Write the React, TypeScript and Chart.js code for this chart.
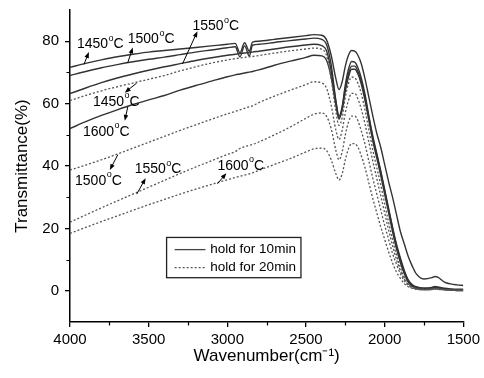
import { useEffect, useRef } from "react";
import { Chart, registerables } from "chart.js";

Chart.register(...registerables);

// ---------------- data ----------------
const WAVENUMBER = [
  4000, 3900, 3800, 3700, 3600, 3500, 3400, 3300, 3200, 3100,
  3000, 2950, 2920, 2890, 2860, 2840, 2800, 2700, 2600, 2500,
  2450, 2400, 2370, 2340, 2310, 2290, 2270, 2250, 2230, 2210,
  2190, 2170, 2150, 2125, 2100, 2075, 2050, 2025, 2000, 1975,
  1950, 1925, 1900, 1875, 1850, 1825, 1800, 1750, 1700, 1680,
  1660, 1620, 1580, 1540, 1500,
];

// hold for 10 min (solid)
const SOLID_1450 = [
  71.6, 72.9, 74.0, 75.0, 75.8, 76.5, 77.0, 77.5, 78.0, 78.5,
  79.0, 79.3, 76.3, 79.5, 76.8, 79.7, 80.0, 80.6, 81.2, 81.8,
  82.1, 81.9, 80.5, 75.5, 68.0, 64.5, 67.0, 72.0, 75.5, 77.0,
  76.8, 75.5, 73.0, 68.0, 62.0, 56.0, 50.5, 46.0, 40.5, 35.0,
  30.0, 24.5, 19.0, 15.0, 11.0, 8.0, 5.5, 3.8, 4.2, 4.6,
  4.3, 2.8, 2.2, 1.9, 1.7,
];
const SOLID_1500 = [
  69.0, 70.3, 71.5, 72.5, 73.4, 74.2, 74.9, 75.7, 76.5, 77.2,
  77.9, 78.2, 75.0, 78.5, 75.2, 78.7, 79.0, 79.6, 80.2, 80.7,
  81.0, 80.6, 79.0, 72.5, 61.0, 56.0, 59.0, 66.0, 71.0, 73.5,
  73.3, 71.5, 68.5, 63.0, 56.0, 49.5, 44.0, 38.5, 32.5, 26.5,
  20.5, 15.0, 10.5, 6.5, 3.5, 2.0, 1.3, 0.9, 1.1, 1.4,
  1.2, 0.8, 0.6, 0.5, 0.5,
];
const SOLID_1550 = [
  63.2, 65.0, 66.7, 68.2, 69.5, 70.7, 71.8, 72.8, 73.8, 74.7,
  75.5, 75.8, 76.0, 76.2, 76.4, 76.5, 76.8, 77.5, 78.2, 78.8,
  79.0, 78.6, 77.0, 70.5, 60.5, 55.5, 58.5, 65.0, 69.5, 72.0,
  72.0, 70.3, 67.5, 62.0, 55.5, 49.0, 43.5, 38.0, 32.0, 26.0,
  20.0, 14.5, 10.0, 6.0, 3.2, 1.8, 1.1, 0.7, 0.9, 1.2,
  1.0, 0.6, 0.4, 0.3, 0.3,
];
const SOLID_1600 = [
  52.0, 54.2, 56.2, 58.0, 59.7, 61.2, 62.6, 64.3, 65.8, 67.2,
  68.6, 69.2, 69.5, 69.8, 70.1, 70.3, 70.8, 72.3, 73.6, 74.8,
  75.5, 75.3, 74.0, 68.5, 59.5, 55.0, 58.0, 64.0, 68.5, 71.0,
  71.0, 69.5, 66.5, 61.0, 54.5, 48.0, 42.5, 37.0, 31.0, 25.0,
  19.0, 13.5, 9.0, 5.5, 2.8, 1.5, 0.9, 0.5, 0.7, 1.0,
  0.8, 0.4, 0.2, 0.1, 0.1,
];

// hold for 20 min (dotted)
const DOTTED_1450 = [
  61.0, 62.6, 64.1, 65.4, 66.6, 67.8, 69.0, 70.5, 71.8, 73.0,
  74.0, 74.4, 74.6, 74.8, 75.0, 75.1, 75.4, 76.2, 76.9, 77.5,
  77.8, 77.4, 75.5, 68.0, 57.5, 53.0, 55.5, 62.0, 66.5, 68.5,
  68.3, 66.5, 63.5, 58.0, 51.5, 45.0, 39.5, 34.0, 28.0, 22.0,
  16.5, 11.5, 7.5, 4.3, 2.2, 1.2, 0.8, 0.5, 0.6, 0.8,
  0.7, 0.4, 0.3, 0.2, 0.2,
];
const DOTTED_1500 = [
  38.7, 40.3, 42.0, 43.8, 45.7, 47.6, 49.5, 51.4, 53.2, 55.0,
  56.7, 57.5, 58.0, 58.5, 59.0, 59.3, 60.3, 62.4, 64.3, 66.1,
  67.0, 66.6, 65.0, 59.5, 51.5, 48.5, 51.5, 57.0, 61.0, 63.3,
  63.3, 61.5, 58.5, 53.5, 47.5, 41.5, 36.0, 30.5, 25.0, 19.5,
  14.5, 10.0, 6.5, 3.8, 2.0, 1.1, 0.7, 0.4, 0.5, 0.7,
  0.6, 0.4, 0.3, 0.2, 0.2,
];
const DOTTED_1550 = [
  22.0, 24.3, 26.6, 28.8, 31.0, 33.2, 35.4, 37.6, 39.7, 41.7,
  43.7, 44.6, 45.6, 46.2, 46.6, 46.9, 47.7, 50.0, 52.5, 55.3,
  56.6, 57.0, 56.0, 52.0, 45.0, 42.0, 44.5, 50.0, 54.0, 56.0,
  56.0, 54.5, 51.5, 47.0, 41.5, 36.0, 31.0, 26.0, 21.0, 16.5,
  12.0, 8.5, 5.5, 3.2, 1.7, 1.0, 0.6, 0.3, 0.4, 0.6,
  0.5, 0.3, 0.2, 0.1, 0.1,
];
const DOTTED_1600 = [
  18.4, 20.3, 22.2, 24.0, 25.8, 27.6, 29.3, 31.0, 32.6, 34.1,
  35.6, 36.3, 36.7, 37.1, 37.5, 37.8, 38.6, 40.5, 42.4, 44.5,
  45.5, 45.7, 45.0, 42.0, 37.5, 35.5, 37.5, 42.0, 45.5, 47.2,
  47.2, 46.0, 43.5, 39.5, 34.5, 29.5, 25.0, 20.5, 16.5, 12.5,
  9.0, 6.0, 4.0, 2.3, 1.3, 0.8, 0.5, 0.3, 0.4, 0.5,
  0.4, 0.3, 0.2, 0.1, 0.1,
];

const X_TICKS = [4000, 3500, 3000, 2500, 2000, 1500];
const X_MINOR_TICKS = [3750, 3250, 2750, 2250, 1750];
const Y_TICKS = [0, 20, 40, 60, 80];
const Y_MINOR_TICKS = [10, 30, 50, 70];

const LEGEND_LABELS = ["hold for 10min", "hold for 20min"];

// temperature call-outs (text anchor and arrow, in data units)
const LABEL_TEMPS = ["1450", "1500", "1550", "1450", "1600", "1500", "1550", "1600"];
const LABEL_W = [3956, 3633, 3222, 3854, 3918, 3968, 3589, 3063];
const LABEL_V = [79.0, 80.6, 84.8, 60.6, 51.0, 35.2, 39.0, 40.0];
const ARROW_TAIL_W = [3911, 3633, 3285, 3576, 3633, 3696, 3576, 3063];
const ARROW_TAIL_V = [72.6, 73.1, 72.7, 66.6, 58.9, 43.6, 31.0, 34.3];
const ARROW_HEAD_W = [3880, 3601, 3190, 3652, 3652, 3747, 3519, 3006];
const ARROW_HEAD_V = [76.5, 78.0, 83.2, 63.5, 54.5, 38.7, 36.1, 37.7];

const FONT = "'Liberation Sans', Arial, sans-serif";

const annotate = {
  id: "annotate",
  afterDraw(chart: any) {
    const { ctx, scales, chartArea } = chart;
    const xs = scales.x;
    const ys = scales.y;
    const px = (w: number) => xs.getPixelForValue(w);
    const py = (v: number) => ys.getPixelForValue(v);
    ctx.save();

    // minor ticks
    ctx.strokeStyle = "#000";
    ctx.lineWidth = 1.2;
    ctx.beginPath();
    X_MINOR_TICKS.forEach((w) => {
      const x = Math.round(px(w)) + 0.5;
      ctx.moveTo(x, chartArea.bottom);
      ctx.lineTo(x, chartArea.bottom + 3.5);
    });
    Y_MINOR_TICKS.forEach((v) => {
      const y = Math.round(py(v)) + 0.5;
      ctx.moveTo(chartArea.left, y);
      ctx.lineTo(chartArea.left - 3.5, y);
    });
    ctx.stroke();

    // temperature labels with arrows
    LABEL_TEMPS.forEach((t, i) => {
      const x = px(LABEL_W[i]);
      const y = py(LABEL_V[i]);
      ctx.fillStyle = "#000";
      ctx.textBaseline = "middle";
      ctx.textAlign = "left";
      ctx.font = `14px ${FONT}`;
      ctx.fillText(t, x, y);
      let cx = x + ctx.measureText(t).width;
      ctx.font = `9px ${FONT}`;
      ctx.fillText("o", cx + 0.5, y - 6);
      cx += ctx.measureText("o").width + 0.5;
      ctx.font = `14px ${FONT}`;
      ctx.fillText("C", cx, y);

      const x0 = px(ARROW_TAIL_W[i]);
      const y0 = py(ARROW_TAIL_V[i]);
      const x1 = px(ARROW_HEAD_W[i]);
      const y1 = py(ARROW_HEAD_V[i]);
      const ang = Math.atan2(y1 - y0, x1 - x0);
      const hl = 6;
      const hw = 2.3;
      ctx.strokeStyle = "#000";
      ctx.lineWidth = 1;
      ctx.beginPath();
      ctx.moveTo(x0, y0);
      ctx.lineTo(x1 - Math.cos(ang) * hl * 0.8, y1 - Math.sin(ang) * hl * 0.8);
      ctx.stroke();
      ctx.beginPath();
      ctx.moveTo(x1, y1);
      ctx.lineTo(
        x1 - Math.cos(ang) * hl - Math.sin(ang) * hw,
        y1 - Math.sin(ang) * hl + Math.cos(ang) * hw
      );
      ctx.lineTo(
        x1 - Math.cos(ang) * hl + Math.sin(ang) * hw,
        y1 - Math.sin(ang) * hl - Math.cos(ang) * hw
      );
      ctx.closePath();
      ctx.fillStyle = "#000";
      ctx.fill();
    });

    // legend box
    const bx0 = px(3386);
    const bx1 = px(2532);
    const by0 = py(17.1);
    const by1 = py(4.2);
    ctx.fillStyle = "#fff";
    ctx.fillRect(bx0, by0, bx1 - bx0, by1 - by0);
    ctx.strokeStyle = "#222";
    ctx.lineWidth = 1.3;
    ctx.strokeRect(bx0, by0, bx1 - bx0, by1 - by0);
    LEGEND_LABELS.forEach((lab, i) => {
      const ly = py(i === 0 ? 13.2 : 7.4);
      ctx.beginPath();
      ctx.strokeStyle = i === 0 ? "#444" : "#555";
      ctx.lineWidth = i === 0 ? 1.3 : 1.2;
      ctx.setLineDash(i === 0 ? [] : [2, 2]);
      ctx.moveTo(px(3335), ly);
      ctx.lineTo(px(3139), ly);
      ctx.stroke();
      ctx.setLineDash([]);
      ctx.fillStyle = "#000";
      ctx.font = `13.5px ${FONT}`;
      ctx.textAlign = "left";
      ctx.textBaseline = "middle";
      ctx.fillText(lab, px(3108), ly);
    });

    ctx.restore();
  },
};

function series(vals: number[], solid: boolean) {
  return {
    data: WAVENUMBER.map((w, i) => ({ x: w, y: vals[i] })),
    borderColor: solid ? "#333333" : "#555555",
    borderWidth: solid ? 1.4 : 1.3,
    borderDash: solid ? [] : [2, 2],
    pointRadius: 0,
    fill: false,
    cubicInterpolationMode: "monotone" as const,
  };
}

export default function App() {
  const ref = useRef<HTMLCanvasElement>(null);
  useEffect(() => {
    const canvas = ref.current;
    if (!canvas) return;
    const chart = new Chart(canvas, {
      type: "line",
      data: {
        datasets: [
          series(DOTTED_1450, false),
          series(DOTTED_1500, false),
          series(DOTTED_1550, false),
          series(DOTTED_1600, false),
          series(SOLID_1600, true),
          series(SOLID_1550, true),
          series(SOLID_1500, true),
          series(SOLID_1450, true),
        ] as any,
      },
      options: {
        responsive: false,
        animation: false,
        layout: { padding: { left: 0, right: 19, top: 10, bottom: 0 } },
        plugins: { legend: { display: false }, tooltip: { enabled: false } },
        scales: {
          x: {
            type: "linear",
            reverse: true,
            min: 1500,
            max: 4000,
            afterBuildTicks: (s: any) => {
              s.ticks = X_TICKS.map((v) => ({ value: v }));
            },
            afterFit: (s: any) => {
              s.height = 56;
            },
            ticks: {
              autoSkip: false,
              maxRotation: 0,
              padding: 4,
              color: "#000",
              font: { family: FONT, size: 15 },
              callback: (v: any) => String(v),
            },
            grid: {
              drawOnChartArea: false,
              drawTicks: true,
              tickLength: 5,
              color: "#000",
              lineWidth: 1.3,
            },
            border: { display: true, color: "#000", width: 1.5 },
            title: {
              display: true,
              text: "Wavenumber(cm\u207B\u00B9)",
              color: "#000",
              font: { family: FONT, size: 17 },
              padding: { top: 0, bottom: 11 },
            },
          },
          y: {
            type: "linear",
            min: -10,
            max: 90,
            afterBuildTicks: (s: any) => {
              s.ticks = Y_TICKS.map((v) => ({ value: v }));
            },
            afterFit: (s: any) => {
              s.width = 70;
              s.paddingTop = 0;
              s.paddingBottom = 0;
            },
            ticks: {
              autoSkip: false,
              padding: 6,
              color: "#000",
              font: { family: FONT, size: 15 },
              callback: (v: any) => String(v),
            },
            grid: {
              drawOnChartArea: false,
              drawTicks: true,
              tickLength: 5,
              color: "#000",
              lineWidth: 1.3,
            },
            border: { display: true, color: "#000", width: 1.5 },
            title: {
              display: true,
              text: "Transmittance(%)",
              color: "#000",
              font: { family: FONT, size: 17 },
              padding: { top: 12, bottom: 0 },
            },
          },
        },
      } as any,
      plugins: [annotate],
    });
    return () => chart.destroy();
  }, []);
  return (
    <div
      style={{
        position: "fixed",
        left: 0,
        top: 0,
        width: 484,
        height: 378,
        background: "#fff",
      }}
    >
      <canvas ref={ref} width={484} height={378} style={{ display: "block" }} />
    </div>
  );
}
